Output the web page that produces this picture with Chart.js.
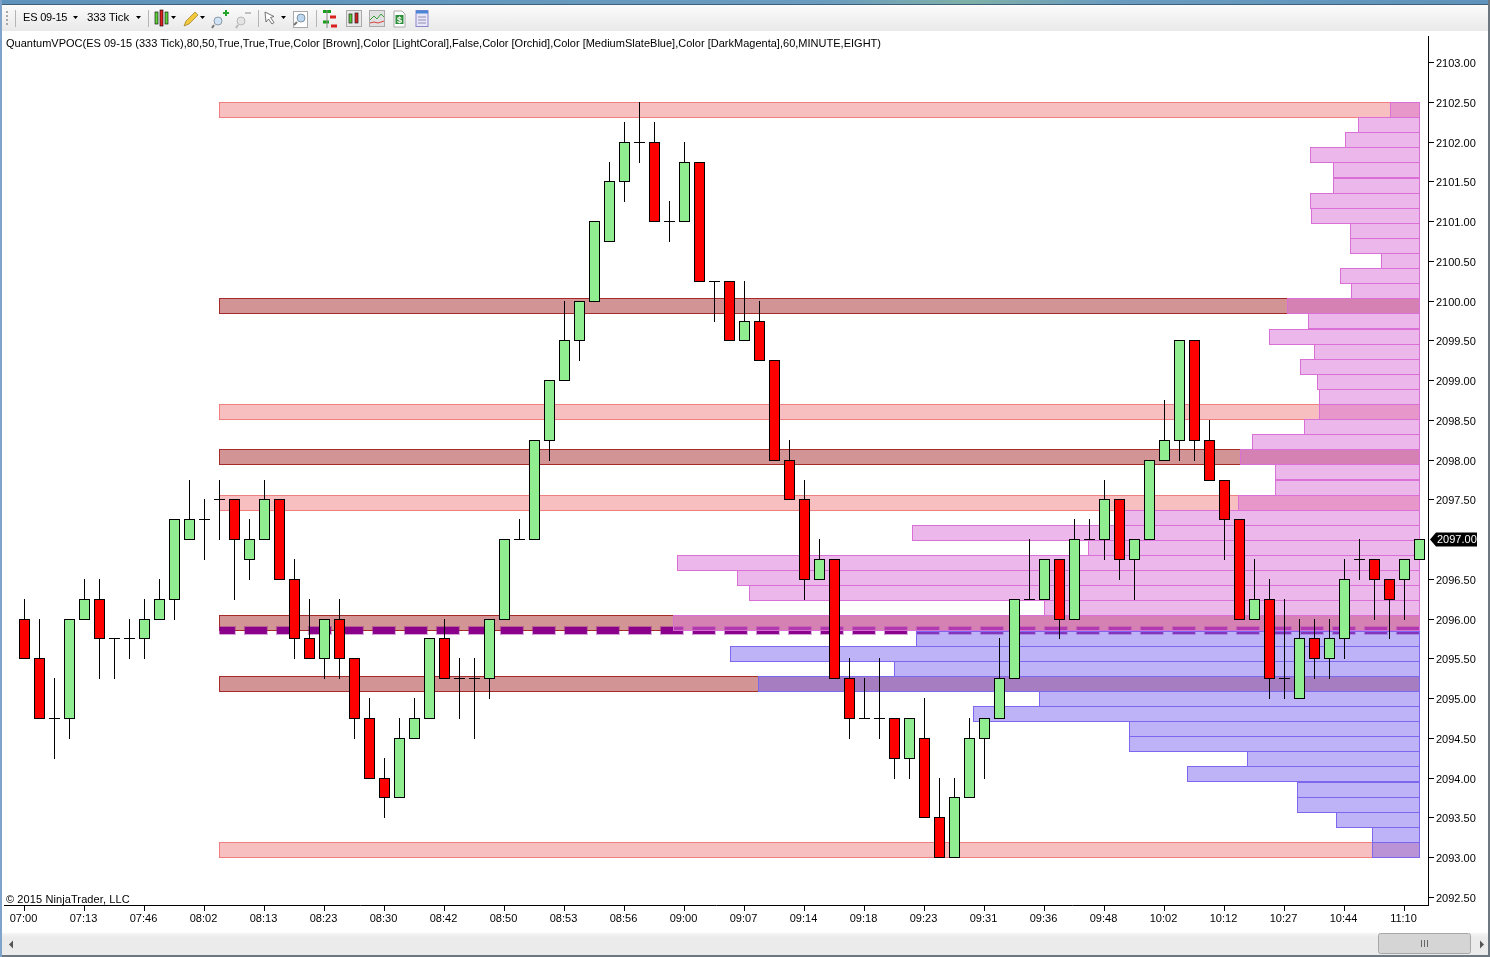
<!DOCTYPE html>
<html>
<head>
<meta charset="utf-8">
<script src="https://cdn.jsdelivr.net/npm/chart.js@4"></script>
<style>
html,body{margin:0;padding:0;background:#fff;width:1490px;height:957px;overflow:hidden}
*{box-sizing:border-box}
#c{position:absolute;left:0;top:0}
.t{position:absolute;font-family:"Liberation Sans",Arial,sans-serif;font-size:11px;line-height:13px;color:#000;white-space:nowrap}
.abs{position:absolute}
</style>
</head>
<body>
<canvas id="c" width="1490" height="957"></canvas>
<div class="abs" style="left:0;top:0;width:1490px;height:4px;background:linear-gradient(90deg,#5f93bb 0%,#6a9cc0 55%,#7fb0a8 65%,#6a9cc0 75%,#5f93bb 100%)"></div>
<div class="abs" style="left:0;top:4px;width:1490px;height:1px;background:#3f5f78"></div>
<div class="abs" style="left:2px;top:5px;width:1486px;height:26px;background:linear-gradient(#fbfbfb,#e9e9e9)"></div>
<div class="abs" style="left:0;top:0;width:2px;height:957px;background:#7fa4c9"></div>
<div class="abs" style="left:1488px;top:0;width:2px;height:957px;background:#6d7780"></div>
<svg class="abs" style="left:0;top:3px" width="440" height="28">
 <g fill="#a8a8a8"><rect x="6" y="8" width="2" height="2"/><rect x="6" y="12" width="2" height="2"/><rect x="6" y="16" width="2" height="2"/><rect x="6" y="20" width="2" height="2"/></g>
 <g stroke="#b5b5b5"><path d="M15.5 7V24M148.5 7V24M258.5 7V24M316.5 7V24"/></g>
 <g fill="#000"><path d="M73 13h5l-2.500 3zM136 13h5l-2.500 3zM171 13h5l-2.500 3zM200 13h5l-2.500 3zM281 13h5l-2.500 3z"/></g>
 <g stroke="#000" stroke-width=".6"><rect x="155" y="9" width="3" height="12" fill="#5fd13b"/><rect x="160" y="7" width="3" height="16" fill="#e02020"/><rect x="165" y="9" width="3" height="12" fill="#5fd13b"/></g>
 <path d="M184 23l2-5 9-9 3 3-9 9z" fill="#f2c93c" stroke="#9a7a20" stroke-width=".7"/>
 <circle cx="218" cy="18" r="4" fill="#cfe3f5" stroke="#8a9aa8"/><path d="M214 22l-2 3" stroke="#777" stroke-width="2"/><path d="M223 10h6M226 7v6" stroke="#22a52a" stroke-width="2"/>
 <circle cx="241" cy="18" r="4" fill="#e4e4e4" stroke="#b8b8b8"/><path d="M238 22l-2 3" stroke="#b8b8b8" stroke-width="2"/><path d="M245 10h6" stroke="#c0c0c0" stroke-width="2"/>
 <path d="M265 9l1 10 2.500-3 3.500 5 2-1.500-3.500-5 3.500-1z" fill="#fff" stroke="#555" stroke-width=".8"/>
 <rect x="293.500" y="8.500" width="14" height="16" fill="#fff" stroke="#aaa"/><circle cx="301" cy="15" r="4" fill="#bcd8f0" stroke="#7f93a5"/><path d="M297 19l-3 3" stroke="#777" stroke-width="2"/>
 <path d="M323 8.500h8M323 19h6" stroke="#1b9c1b" stroke-width="3"/><path d="M330 14h6M331 23h6" stroke="#d92020" stroke-width="3"/><path d="M327 7v18" stroke="#888" stroke-width="1"/>
 <rect x="346.500" y="7.500" width="15" height="16" fill="#e8e8e8" stroke="#aaa"/><g stroke="#222" stroke-width=".7"><rect x="349" y="11" width="3" height="9" fill="#54c832"/><rect x="355" y="10" width="3" height="10" fill="#d92020"/></g>
 <rect x="369.500" y="7.500" width="15" height="16" fill="#e0e0e0" stroke="#aaa"/><path d="M370 17l4-4 3 3 4-5 3 3" stroke="#3aa03a" fill="none"/><path d="M370 20l4-1 4 1 6-2" stroke="#d94040" fill="none"/>
 <path d="M394 8h8l3 3v13h-11z" fill="#fff" stroke="#aaa"/><rect x="395.500" y="12" width="8" height="9" fill="#2d8f3a"/><text x="397" y="20" font-family="Liberation Sans" font-size="9" font-weight="bold" fill="#fff">$</text>
 <rect x="416" y="7.500" width="12" height="16" fill="#e9e6fa" stroke="#8a86c8"/><rect x="416" y="7.500" width="12" height="3" fill="#4a86d8"/><path d="M418 14h8M418 17h8M418 20h8" stroke="#8f8fb0"/>
</svg>
<div class="t" style="left:23px;top:11px;letter-spacing:-.2px">ES 09-15</div>
<div class="t" style="left:87px;top:11px;font-size:11.5px;letter-spacing:-.1px">333 Tick</div>
<div class="t" style="left:6px;top:37px;letter-spacing:.012px" id="title">QuantumVPOC(ES 09-15 (333 Tick),80,50,True,True,True,Color [Brown],Color [LightCoral],False,Color [Orchid],Color [MediumSlateBlue],Color [DarkMagenta],60,MINUTE,EIGHT)</div>
<div class="t" style="left:6px;top:893px;letter-spacing:.1px">© 2015 NinjaTrader, LLC</div>
<div class="abs" style="left:2px;top:933px;width:1486px;height:22px;background:linear-gradient(#f6f6f6,#ebebeb 20%,#ebebeb)"></div>
<div class="abs" style="left:2px;top:955px;width:1486px;height:2px;background:#6d7780"></div>
<svg class="abs" style="left:0;top:933px" width="1490" height="22">
 <path d="M9 11.500l4-4v8z" fill="#555"/><path d="M1484 11.500l-4-4v8z" fill="#555"/>
 <rect x="1378.500" y=".5" width="92" height="20" rx="2" fill="#d5d5d5" stroke="#a8a8a8"/>
 <path d="M1421.500 7v7M1424.500 7v7M1427.500 7v7" stroke="#666"/>
</svg>
<script>
// Candles: one entry per bar
const opens  = [2096,2095.5,2094.75,2094.75,2096,2096.25,2095.75,2095.75,2095.75,2096,2096.25,2097,2097.25,2097.5,2097.5,2096.75,2097,2097.5,2096.5,2095.75,2095.5,2096,2095.5,2094.75,2094,2093.75,2094.5,2094.75,2095.75,2095.25,2095.25,2095.25,2096,2097,2097,2098.25,2099,2099.5,2100,2100.75,2101.5,2102,2102,2101,2101,2101.75,2100.25,2100.25,2099.5,2099.75,2099.25,2098,2097.5,2096.5,2096.75,2095.25,2094.75,2094.75,2094.75,2094.25,2094.5,2093.5,2093,2093.75,2094.5,2094.75,2095.25,2096.25,2096.25,2096.75,2096,2097,2097,2097.5,2096.75,2097,2098,2098.25,2099.5,2098.25,2097.75,2097.25,2096,2096.25,2095.25,2095,2095.75,2095.5,2095.75,2096.75,2096.75,2096.5,2096.5,2096.75];
const highs  = [2096.25,2096,2095.25,2096,2096.5,2096.5,2095.75,2096,2096.25,2096.5,2097.25,2097.75,2097.5,2097.75,2097.5,2097.25,2097.75,2097.5,2096.75,2096.25,2096,2096.25,2095.5,2095,2094.25,2094.75,2095,2095.75,2096,2095.5,2095.5,2096,2097,2097.25,2098.25,2099,2100,2100,2101,2101.75,2102.25,2102.5,2102.25,2101.25,2102,2101.75,2100.25,2100.25,2100.25,2100,2099.25,2098.25,2097.75,2097,2096.75,2095.5,2095.25,2095.5,2094.75,2094.75,2095,2094,2094,2094.75,2094.75,2095.75,2096.25,2097,2096.75,2096.75,2097.25,2097.25,2097.75,2097.5,2097,2098,2098.75,2099.5,2099.5,2098.5,2097.75,2097.25,2096.75,2096.5,2096.25,2096,2096,2096,2096.75,2097,2096.75,2096.5,2096.75,2097];
const lows   = [2095.5,2094.75,2094.25,2094.5,2096,2095.25,2095.25,2095.5,2095.5,2096,2096,2097,2096.75,2097,2096.25,2096.5,2097,2096.5,2095.5,2095.5,2095.25,2095.25,2094.5,2094,2093.5,2093.75,2094.5,2094.75,2095.25,2094.75,2094.5,2095,2096,2097,2097,2098,2099,2099.25,2100,2100.75,2101.25,2101.75,2101,2100.75,2101,2100.25,2099.75,2099.5,2099.5,2099.25,2098,2097.5,2096.25,2096.5,2095.25,2094.5,2094.75,2094.5,2094,2094,2093.5,2093,2093,2093.75,2094,2094.75,2095.25,2096.25,2096.25,2095.75,2096,2097,2096.75,2096.5,2096.25,2097,2098,2098,2098,2097.75,2096.75,2096,2096,2095,2095,2095,2095.25,2095.25,2095.5,2096.5,2096,2095.75,2096,2096.75];
const closes = [2095.5,2094.75,2094.75,2096,2096.25,2095.75,2095.75,2095.75,2096,2096.25,2097.25,2097.25,2097.25,2097.5,2097,2097,2097.5,2096.5,2095.75,2095.5,2096,2095.5,2094.75,2094,2093.75,2094.5,2094.75,2095.75,2095.25,2095.25,2095.25,2096,2097,2097,2098.25,2099,2099.5,2100,2101,2101.5,2102,2102,2101,2101,2101.75,2100.25,2100.25,2099.5,2099.75,2099.25,2098,2097.5,2096.5,2096.75,2095.25,2094.75,2094.75,2094.75,2094.25,2094.75,2093.5,2093,2093.75,2094.5,2094.75,2095.25,2096.25,2096.25,2096.75,2096,2097,2097,2097.5,2096.75,2097,2098,2098.25,2099.5,2098.25,2097.75,2097.25,2096,2096.25,2095.25,2095.25,2095.75,2095.5,2095.75,2096.5,2096.75,2096.5,2096.25,2096.75,2097];

// Axes
const timeTickBars   = [0,4,8,12,16,20,24,28,32,36,40,44,48,52,56,60,64,68,72,76,80,84,88,92];
const timeTickLabels = ["07:00","07:13","07:46","08:02","08:13","08:23","08:30","08:42","08:50","08:53","08:56","09:00","09:07","09:14","09:18","09:23","09:31","09:36","09:48","10:02","10:12","10:27","10:44","11:10"];
const priceTicks     = [2103,2102.5,2102,2101.5,2101,2100.5,2100,2099.5,2099,2098.5,2098,2097.5,2096.5,2096,2095.5,2095,2094.5,2094,2093.5,2093,2092.5];

// Volume profile: one row per price band, top to bottom
const profileRowPrices = [2102.399,2102.209,2102.019,2101.829,2101.639,2101.449,2101.259,2101.069,2100.879,2100.689,2100.499,2100.309,2100.119,2099.929,2099.739,2099.549,2099.359,2099.169,2098.979,2098.789,2098.599,2098.409,2098.219,2098.029,2097.839,2097.649,2097.459,2097.269,2097.079,2096.889,2096.699,2096.509,2096.319,2096.129,2095.939,2095.749,2095.559,2095.369,2095.179,2094.989,2094.799,2094.609,2094.419,2094.229,2094.039,2093.849,2093.659,2093.469,2093.279,2093.089];
const profileVolumes   = [30,62,75,110,87,87,110,109,70,70,39,80,69,133,112,151,106,120,103,101,101,116,168,180,145,145,182,300,508,332,743,683,671,376,747,504,690,526,662,381,447,291,291,173,233,123,123,84,48,48];

// Value area and high/low volume nodes
const vpocPrice      = 2095.85;
const vpocBars       = [13,93];
const highNodePrices = [2099.929,2098.029,2095.939,2095.179];
const lowNodePrices  = [2102.399,2098.599,2097.459,2093.089];
const nodeExtent     = 1201;
const lastPrice      = 2097;

const GREEN='#90EE90', RED='#FF0000', BLACK='#000';
const ORCHID='#DA70D6', SLATE='#7B68EE', BROWN='#A52A2A', CORAL='#F08080', MAGENTA='#8B008B';

const bars = opens.map((o,i)=>i);
const bodyBars = bars.filter(i=>opens[i]!==closes[i]);
const dojiBars = bars.filter(i=>opens[i]===closes[i]);

function snap(scale){
  const proto = Object.getPrototypeOf(scale).getPixelForValue;
  scale.getPixelForValue = function(v,i){ return Math.round(proto.call(this,v,i)); };
}
function shiftLabels(scale,dx,dy){
  const orig = scale._computeLabelItems;
  scale._computeLabelItems = function(ca){
    const items = orig.call(this,ca);
    items.forEach(l=>{ l.options = {...l.options, translation:[l.options.translation[0]+dx, l.options.translation[1]+dy]}; });
    return items;
  };
}
const candleFit = {
  id:'candleFit',
  afterDatasetsUpdate(chart){
    chart.data.datasets.forEach((d,idx)=>{
      const els = chart.getDatasetMeta(idx).data;
      if(d.candlePart) els.forEach(el=>{
        el.base += 1;
        if(d.candlePart==='doji') el.y += 1;
      });
      if(d.type==='line') els.forEach(el=>{ el.y += 0.5; });
    });
  }
};
const lastMark = {
  id:'lastMark',
  afterDraw(chart){
    const y = chart.scales.y.getPixelForValue(lastPrice)+0.5, ctx = chart.ctx;
    ctx.save();
    ctx.fillStyle='#000';
    ctx.beginPath();
    ctx.moveTo(1430,y); ctx.lineTo(1436,y-7); ctx.lineTo(1477,y-7); ctx.lineTo(1477,y+7); ctx.lineTo(1436,y+7);
    ctx.closePath(); ctx.fill();
    ctx.fillStyle='#fff'; ctx.font='11px "Liberation Sans"'; ctx.textBaseline='middle'; ctx.textAlign='left';
    ctx.fillText(lastPrice.toFixed(2),1437,y+0.5);
    ctx.restore();
  }
};
const hbar = {type:'bar',indexAxis:'y',xAxisID:'xVol',yAxisID:'y',barThickness:16,grouped:false,borderWidth:1,borderSkipped:false,inflateAmount:0};
const vbar = {type:'bar',xAxisID:'x',yAxisID:'y',grouped:false,borderSkipped:false,inflateAmount:0};

new Chart(document.getElementById('c'),{
  type:'bar',
  data:{datasets:[
    {...vbar,label:'Bodies',order:1,candlePart:'body',barThickness:11,borderWidth:1,borderColor:BLACK,
      backgroundColor:c=>{const i=bodyBars[c.dataIndex];return closes[i]>opens[i]?GREEN:RED;},
      data:bodyBars.map(i=>({x:i,y:[opens[i],closes[i]]}))},
    {...vbar,label:'Doji',order:2,candlePart:'doji',barThickness:11,borderWidth:0,minBarLength:1,backgroundColor:BLACK,
      data:dojiBars.map(i=>({x:i,y:[opens[i],closes[i]]}))},
    {...vbar,label:'Wicks',order:3,candlePart:'wick',barThickness:1,borderWidth:0,backgroundColor:BLACK,
      data:bars.map(i=>({x:i,y:[lows[i],highs[i]]}))},
    {...hbar,label:'Profile',order:4,
      backgroundColor:c=>profileRowPrices[c.dataIndex]>vpocPrice?'rgba(218,112,214,.5)':'rgba(123,104,238,.5)',
      borderColor:c=>profileRowPrices[c.dataIndex]>vpocPrice?ORCHID:SLATE,
      data:profileRowPrices.map((p,i)=>({x:[0,profileVolumes[i]],y:p}))},
    {type:'line',label:'VPOC',order:5,xAxisID:'x',yAxisID:'y',borderColor:MAGENTA,borderWidth:7,borderDash:[22,10],borderDashOffset:6.6,pointRadius:0,fill:false,
      data:vpocBars.map(x=>({x,y:vpocPrice}))},
    {type:'line',label:'VPOC halo',order:6,xAxisID:'x',yAxisID:'y',borderColor:'rgba(139,0,139,.35)',borderWidth:9,borderDash:[24,8],borderDashOffset:7.6,pointRadius:0,fill:false,
      data:vpocBars.map(x=>({x,y:vpocPrice}))},
    {...hbar,label:'High nodes',order:7,backgroundColor:'rgba(165,42,42,.5)',borderColor:BROWN,
      data:highNodePrices.map(p=>({x:[0,nodeExtent],y:p}))},
    {...hbar,label:'Low nodes',order:8,backgroundColor:'rgba(240,128,128,.5)',borderColor:CORAL,
      data:lowNodePrices.map(p=>({x:[0,nodeExtent],y:p}))}
  ]},
  plugins:[candleFit,lastMark],
  options:{
    responsive:false,animation:false,devicePixelRatio:1,events:[],
    layout:{padding:{left:4,top:36,right:0,bottom:0}},
    plugins:{legend:{display:false},tooltip:{enabled:false},title:{display:false}},
    scales:{
      x:{type:'linear',position:'bottom',offset:false,min:-20.5/15,max:1403.5/15,
        afterDataLimits:s=>shiftLabels(s,-1,0),
        afterBuildTicks:s=>{s.ticks=timeTickBars.map(v=>({value:v}));},
        afterFit:s=>{s.height=52;},
        grid:{offset:false,drawOnChartArea:false,drawTicks:true,tickLength:6,tickColor:BLACK},
        border:{display:true,color:BLACK,width:1},
        ticks:{autoSkip:false,maxRotation:0,minRotation:0,padding:1,color:BLACK,font:{family:'"Liberation Sans"',size:11},
          callback:v=>timeTickLabels[timeTickBars.indexOf(v)]}},
      y:{type:'linear',position:'right',offset:false,beginAtZero:false,min:2093-48/79.47,max:2102.5+66/79.47,
        afterDataLimits:s=>{snap(s);shiftLabels(s,0,1.5);},
        afterBuildTicks:s=>{s.ticks=priceTicks.map(v=>({value:v}));},
        afterFit:s=>{s.width=62;},
        grid:{offset:false,drawOnChartArea:false,drawTicks:true,tickLength:6,tickColor:BLACK},
        border:{display:true,color:BLACK,width:1},
        ticks:{autoSkip:false,padding:2,color:BLACK,font:{family:'"Liberation Sans"',size:11},callback:v=>v.toFixed(2)}},
      xVol:{type:'linear',display:false,position:'top',offset:false,reverse:true,beginAtZero:false,min:-8,max:1416,
        afterDataLimits:snap,grid:{offset:false}}
    }
  }
});
</script>
</body>
</html>
